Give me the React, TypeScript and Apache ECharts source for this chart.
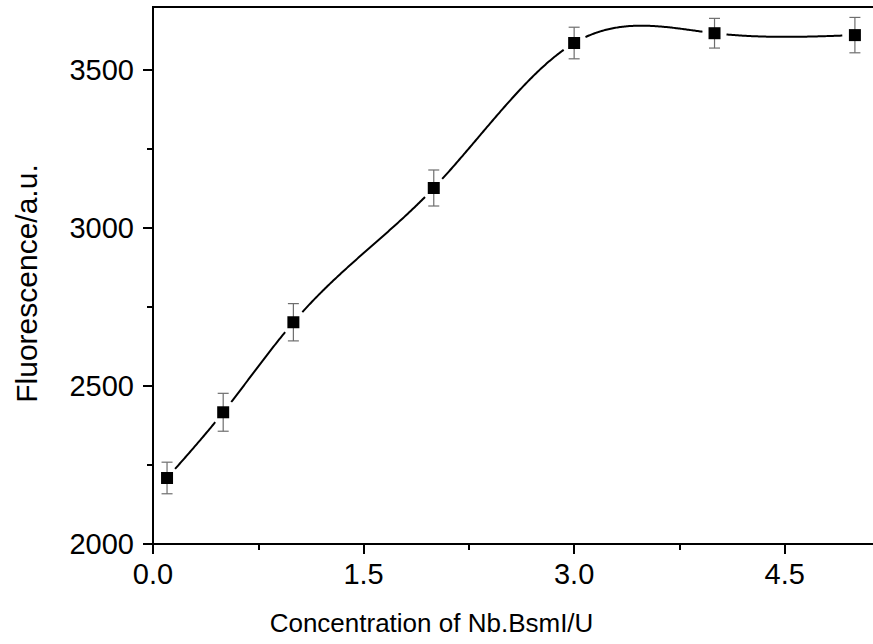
import React, { useEffect, useRef } from "react";
import * as echarts from "echarts";

const concentration = [0.1, 0.5, 1, 2, 3, 4, 5];
const fluorescence = [2209, 2417, 2702, 3127, 3586, 3617, 3611];
const errors = [50, 60, 59, 57, 50, 47, 56];

const xMajorTicks = [0, 1.5, 3, 4.5];
const xMinorTicks = [0.75, 2.25, 3.75];
const yMajorTicks = [2000, 2500, 3000, 3500];
const yMinorTicks = [2250, 2750, 3250];

const FONT = "'Liberation Sans', Arial, sans-serif";

// natural cubic spline second derivatives (rendering of the connecting curve)
function splineSecond(xs: number[], ys: number[]): number[] {
  const n = xs.length;
  const m = new Array(n).fill(0);
  const u = new Array(n).fill(0);
  for (let i = 1; i < n - 1; i++) {
    const sig = (xs[i] - xs[i - 1]) / (xs[i + 1] - xs[i - 1]);
    const p = sig * m[i - 1] + 2;
    m[i] = (sig - 1) / p;
    const d =
      (ys[i + 1] - ys[i]) / (xs[i + 1] - xs[i]) -
      (ys[i] - ys[i - 1]) / (xs[i] - xs[i - 1]);
    u[i] = ((6 * d) / (xs[i + 1] - xs[i - 1]) - sig * u[i - 1]) / p;
  }
  m[n - 1] = 0;
  for (let k = n - 2; k >= 0; k--) m[k] = m[k] * m[k + 1] + u[k];
  return m;
}

function splineAt(xs: number[], ys: number[], m: number[], x: number): number {
  let k = 0;
  while (k < xs.length - 2 && x > xs[k + 1]) k++;
  const h = xs[k + 1] - xs[k];
  const a = (xs[k + 1] - x) / h;
  const b = (x - xs[k]) / h;
  return (
    a * ys[k] +
    b * ys[k + 1] +
    (((a * a * a - a) * m[k] + (b * b * b - b) * m[k + 1]) * h * h) / 6
  );
}

export default function App() {
  const ref = useRef<HTMLDivElement>(null);
  useEffect(() => {
    if (!ref.current) return;
    const chart = echarts.init(ref.current, null, { renderer: "svg" });
    const xBase = {
      type: "value",
      min: 0,
      max: 5.25,
      interval: 0.75,
      splitLine: { show: false },
    };
    const yBase = {
      type: "value",
      min: 2000,
      max: 3700,
      interval: 250,
      splitLine: { show: false },
    };
    const m2 = splineSecond(concentration, fluorescence);
    chart.setOption({
      animation: false,
      backgroundColor: "#ffffff",
      grid: {
        left: 153,
        right: -17,
        top: 7,
        bottom: 100,
        outerBoundsMode: "none",
        containLabel: false,
        show: true,
        borderColor: "#000",
        borderWidth: 2,
        backgroundColor: "transparent",
      },
      xAxis: [
        {
          ...xBase,
          position: "bottom",
          name: "Concentration of Nb.BsmI/U",
          nameLocation: "middle",
          nameGap: 66,
          nameTextStyle: {
            fontFamily: FONT,
            fontSize: 26,
            color: "#000",
            padding: [0, 180, 0, 0],
          },
          axisLine: { show: true, lineStyle: { color: "#000", width: 2 } },
          axisTick: {
            show: true,
            length: 10,
            customValues: xMajorTicks,
            lineStyle: { color: "#000", width: 2 },
          },
          axisLabel: {
            show: true,
            customValues: xMajorTicks,
            formatter: (v: number) => v.toFixed(1),
            fontFamily: FONT,
            fontSize: 29,
            color: "#000",
            margin: 15,
          },
        },
        {
          ...xBase,
          position: "bottom",
          axisLine: { show: false },
          axisTick: {
            show: true,
            length: 6,
            customValues: xMinorTicks,
            lineStyle: { color: "#000", width: 2 },
          },
          axisLabel: { show: false },
        },
      ],
      yAxis: [
        {
          ...yBase,
          position: "left",
          name: "Fluorescence/a.u.",
          nameLocation: "middle",
          nameGap: 112,
          nameTextStyle: {
            fontFamily: FONT,
            fontSize: 30,
            color: "#000",
            padding: [0, 16, 0, 0],
          },
          axisLine: { show: true, lineStyle: { color: "#000", width: 2 } },
          axisTick: {
            show: true,
            length: 10,
            customValues: yMajorTicks,
            lineStyle: { color: "#000", width: 2 },
          },
          axisLabel: {
            show: true,
            customValues: yMajorTicks,
            formatter: (v: number) => String(v),
            fontFamily: FONT,
            fontSize: 29,
            color: "#000",
            margin: 19,
          },
        },
        {
          ...yBase,
          position: "left",
          axisLine: { show: false },
          axisTick: {
            show: true,
            length: 6,
            customValues: yMinorTicks,
            lineStyle: { color: "#000", width: 2 },
          },
          axisLabel: { show: false },
        },
      ],
      series: [
        {
          type: "custom",
          z: 1,
          data: concentration.map((c, i) => [c, fluorescence[i], errors[i]]),
          renderItem: (params: any, api: any) => {
            const x = api.value(0);
            const y = api.value(1);
            const e = api.value(2);
            const top = api.coord([x, y + e]);
            const bot = api.coord([x, y - e]);
            const hw = 5.5;
            const style = { stroke: "#6e6e6e", lineWidth: 1.2 };
            return {
              type: "group",
              children: [
                { type: "line", shape: { x1: top[0], y1: top[1], x2: bot[0], y2: bot[1] }, style },
                { type: "line", shape: { x1: top[0] - hw, y1: top[1], x2: top[0] + hw, y2: top[1] }, style },
                { type: "line", shape: { x1: bot[0] - hw, y1: bot[1], x2: bot[0] + hw, y2: bot[1] }, style },
              ],
            };
          },
        },
        {
          type: "custom",
          z: 2,
          data: [[concentration[0], fluorescence[0]]],
          renderItem: (params: any, api: any) => {
            const centers = concentration.map((c, i) => api.coord([c, fluorescence[i]]));
            const x0 = concentration[0];
            const x1 = concentration[concentration.length - 1];
            const steps = 600;
            const segs: number[][][] = [];
            let cur: number[][] = [];
            for (let s = 0; s <= steps; s++) {
              const xv = x0 + ((x1 - x0) * s) / steps;
              const yv = splineAt(concentration, fluorescence, m2, xv);
              const p = api.coord([xv, yv]);
              const near = centers.some(
                (c: number[]) => Math.hypot(c[0] - p[0], c[1] - p[1]) < 12
              );
              if (near) {
                if (cur.length > 1) segs.push(cur);
                cur = [];
              } else {
                cur.push(p);
              }
            }
            if (cur.length > 1) segs.push(cur);
            return {
              type: "group",
              children: segs.map((pts) => ({
                type: "polyline",
                shape: { points: pts },
                style: { stroke: "#000", lineWidth: 2, fill: null },
              })),
            };
          },
        },
        {
          type: "scatter",
          z: 3,
          data: concentration.map((c, i) => [c, fluorescence[i]]),
          symbol: "rect",
          symbolSize: 12,
          itemStyle: { color: "#000", opacity: 1 },
        },
      ],
    });
    return () => chart.dispose();
  }, []);
  return (
    <div
      ref={ref}
      style={{ position: "absolute", left: 0, top: 0, width: 873, height: 644 }}
    />
  );
}
